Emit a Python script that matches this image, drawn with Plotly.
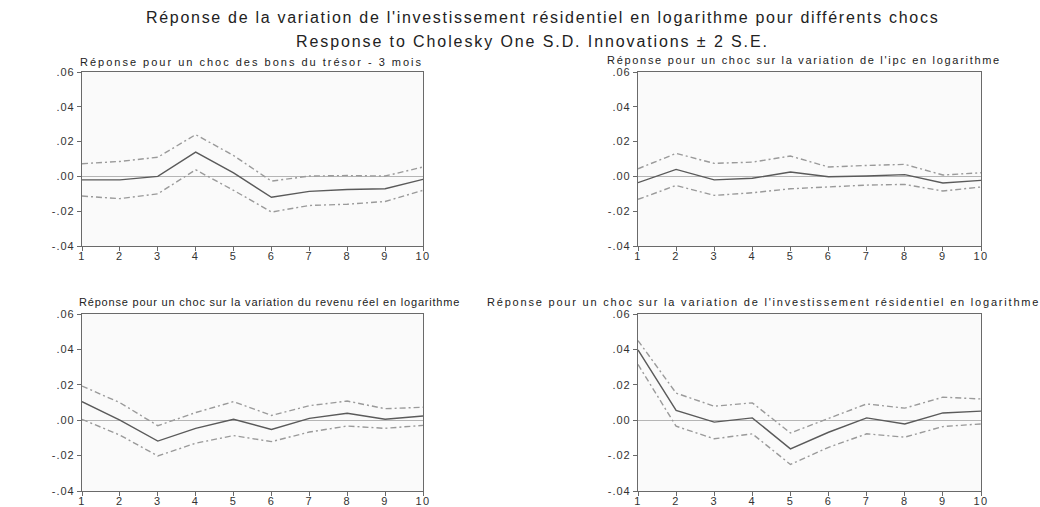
import plotly.graph_objects as go
from plotly.subplots import make_subplots

# Horizons of the impulse responses
periods = [1, 2, 3, 4, 5, 6, 7, 8, 9, 10]

# Shock: 3-month treasury bills
tbill_resp = [-0.002, -0.002, 0.000, 0.014, 0.002, -0.012, -0.0086, -0.0075, -0.0071, -0.0017]
tbill_upper = [0.0073, 0.0086, 0.011, 0.024, 0.012, -0.0027, 0.0002, 0.0005, 0.0002, 0.0054]
tbill_lower = [-0.0113, -0.0128, -0.010, 0.0038, -0.008, -0.0205, -0.0167, -0.016, -0.0144, -0.008]

# Shock: CPI (log change)
ipc_resp = [-0.0036, 0.004, -0.002, -0.0011, 0.0025, -0.0002, 0.0002, 0.001, -0.0038, -0.0023]
ipc_upper = [0.0044, 0.0132, 0.0075, 0.0082, 0.0117, 0.0054, 0.0063, 0.0069, 0.0008, 0.0021]
ipc_lower = [-0.0132, -0.0052, -0.0109, -0.0094, -0.0071, -0.0061, -0.005, -0.0046, -0.0084, -0.0061]

# Shock: real income (log change)
rev_resp = [0.0105, 0.000, -0.0118, -0.0046, 0.0005, -0.0052, 0.001, 0.0039, 0.0005, 0.0024]
rev_upper = [0.0193, 0.0099, -0.0031, 0.0043, 0.0105, 0.0027, 0.0082, 0.0108, 0.0065, 0.0073]
rev_lower = [0.0005, -0.0084, -0.0202, -0.013, -0.0087, -0.0121, -0.0067, -0.0033, -0.0046, -0.0029]

# Shock: residential investment (log change)
inv_resp = [0.0397, 0.0055, -0.0011, 0.0013, -0.0162, -0.0068, 0.0013, -0.0021, 0.0041, 0.0051]
inv_upper = [0.045, 0.0153, 0.0079, 0.0098, -0.0072, 0.0011, 0.0092, 0.0068, 0.013, 0.012]
inv_lower = [0.0315, -0.0034, -0.0105, -0.0077, -0.025, -0.0153, -0.0077, -0.0096, -0.0036, -0.0021]

panel_titles = [
    "Réponse pour un choc des bons du trésor - 3 mois",
    "Réponse pour un choc sur la variation de l'ipc en logarithme",
    "Réponse pour un choc sur la variation du revenu réel en logarithme",
    "Réponse pour un choc sur la variation de l'investissement résidentiel en logarithme",
]
x_ticktext = ["1", "2", "3", "4", "5", "6", "7", "8", "9", "10"]
y_tickvals = [0.06, 0.04, 0.02, 0.0, -0.02, -0.04]
y_ticktext = [".06", ".04", ".02", ".00", "-.02", "-.04"]

title_line1 = "Réponse de la variation de l'investissement résidentiel en logarithme pour différents chocs"
title_line2 = "Response to Cholesky One S.D. Innovations ± 2 S.E."

panels = [
    (tbill_resp, tbill_upper, tbill_lower),
    (ipc_resp, ipc_upper, ipc_lower),
    (rev_resp, rev_upper, rev_lower),
    (inv_resp, inv_upper, inv_lower),
]

W, H = 1040, 507
FONT = "Liberation Sans"


def spaced(text, px):
    """Wrap a label in a span with extra letter spacing."""
    return f'<span style="letter-spacing:{px}px">{text}</span>'


fig = make_subplots(rows=2, cols=2)

positions = [(1, 1), (1, 2), (2, 1), (2, 2)]
for (resp, up, lo), (r, c) in zip(panels, positions):
    for ys, color, dash in ((up, "#9a9a9a", "6px,3px,2px,3px"),
                            (lo, "#9a9a9a", "6px,3px,2px,3px"),
                            (resp, "#5a5a5a", "solid")):
        fig.add_trace(go.Scatter(x=periods, y=ys, mode="lines",
                                 line=dict(color=color, width=1.4, dash=dash),
                                 showlegend=False, hoverinfo="skip"),
                      row=r, col=c)

# Panel placement in pixels: (left, right) and (top, bottom)
x_px = {1: (82, 423), 2: (638, 981)}
y_px = {1: (72, 246), 2: (314, 491)}

axis_common = dict(showline=True, mirror=True, linecolor="#6a6a6a", linewidth=1.2,
                   ticks="outside", ticklen=4, tickcolor="#6a6a6a", showgrid=False,
                   automargin=False, tickfont=dict(family=FONT, size=11, color="#333"))

for i, (r, c) in enumerate(positions, start=1):
    xa = "xaxis" if i == 1 else f"xaxis{i}"
    ya = "yaxis" if i == 1 else f"yaxis{i}"
    x0, x1 = x_px[c]
    yt, yb = y_px[r]
    fig.layout[xa].update(domain=[x0 / W, x1 / W], range=[1, 10], tickvals=periods,
                          ticktext=[spaced(t, 1.5) for t in x_ticktext],
                          ticklabelstandoff=-4, zeroline=False, **axis_common)
    fig.layout[ya].update(domain=[1 - yb / H, 1 - yt / H], range=[-0.04, 0.06],
                          tickvals=y_tickvals,
                          ticktext=[spaced(t, 1) for t in y_ticktext],
                          zeroline=True, zerolinecolor="#b5b5b5", zerolinewidth=1.2,
                          **axis_common)

annotations = [
    dict(text=spaced(title_line1, 1.7), x=542 / W, y=1 - 18 / H, xref="paper", yref="paper",
         xanchor="center", yanchor="middle", showarrow=False,
         font=dict(family=FONT, size=16, color="#222")),
    dict(text=spaced(title_line2, 1.9), x=532 / W, y=1 - 42 / H, xref="paper", yref="paper",
         xanchor="center", yanchor="middle", showarrow=False,
         font=dict(family=FONT, size=16, color="#222")),
]
title_pos = [(78, 62), (605, 60), (77, 302), (485, 302)]
title_spacing = [2.0, 1.7, 0.8, 1.8]
for text, (tx, ty), sp in zip(panel_titles, title_pos, title_spacing):
    annotations.append(dict(text=spaced(text, sp), x=tx / W, y=1 - ty / H,
                            xref="paper", yref="paper",
                            xanchor="left", yanchor="middle", showarrow=False,
                            font=dict(family=FONT, size=11, color="#222")))

fig.update_layout(width=W, height=H, margin=dict(l=0, r=0, t=0, b=0),
                  paper_bgcolor="white", plot_bgcolor="#fafafa",
                  annotations=annotations, showlegend=False)

fig.write_html("out.html")
